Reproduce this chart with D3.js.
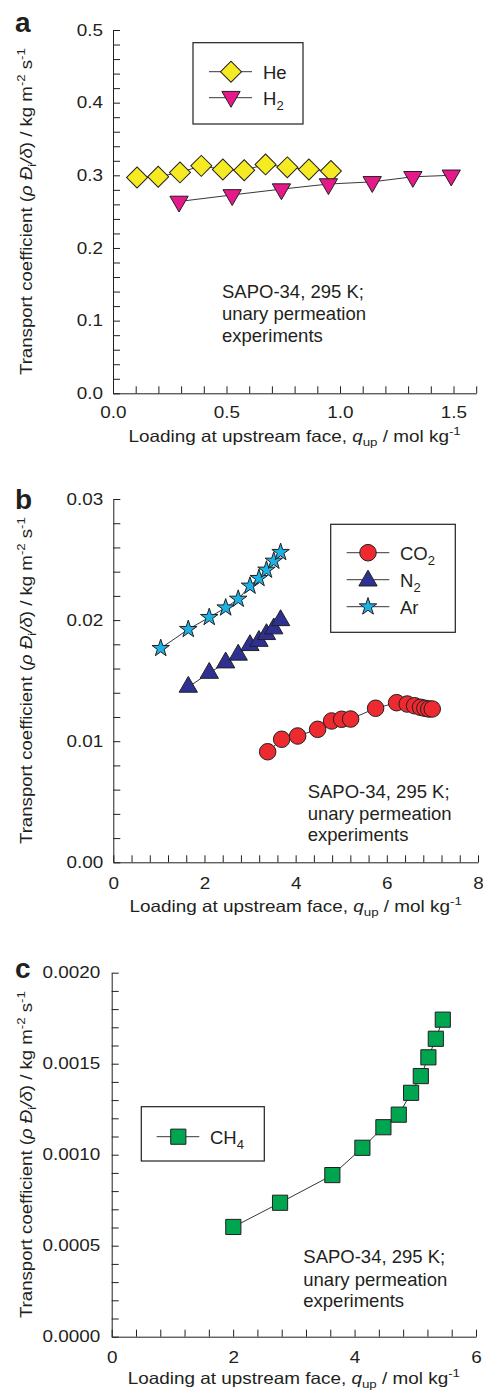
<!DOCTYPE html>
<html><head><meta charset="utf-8">
<script src="https://cdn.jsdelivr.net/npm/d3@7"></script>
<style>
body{margin:0;background:#fff}
svg{display:block}
text{font-family:"Liberation Sans",Arial,sans-serif;fill:#231f20}
</style>
</head><body>
<svg id="chart" width="483" height="1391"></svg>
<script>
// ---------- Panel a data ----------
const heX = [0.106, 0.199, 0.295, 0.389, 0.484, 0.578, 0.672, 0.768, 0.863, 0.960];
const heY = [0.297, 0.298, 0.304, 0.313, 0.308, 0.307, 0.315, 0.311, 0.308, 0.306];
const h2X = [0.291, 0.525, 0.742, 0.949, 1.142, 1.321, 1.490];
const h2Y = [0.264, 0.273, 0.281, 0.288, 0.291, 0.298, 0.300];
const aXTicks = [0.0, 0.5, 1.0, 1.5];
const aYTicks = [0.0, 0.1, 0.2, 0.3, 0.4, 0.5];

// ---------- Panel b data ----------
const co2X = [3.386, 3.693, 4.044, 4.482, 4.789, 5.009, 5.206, 5.754, 6.215, 6.447, 6.61, 6.74, 6.835, 6.92, 6.996];
const co2Y = [0.00913, 0.01016, 0.01043, 0.01098, 0.01167, 0.01181, 0.01183, 0.01272, 0.01318, 0.01307, 0.01293, 0.0128, 0.01272, 0.01266, 0.01266];
const n2X = [1.645, 2.105, 2.465, 2.74, 2.998, 3.195, 3.36, 3.52, 3.67];
const n2Y = [0.01448, 0.01563, 0.01649, 0.01713, 0.01792, 0.01827, 0.01883, 0.0193, 0.01998];
const arX = [1.04, 1.645, 2.105, 2.465, 2.74, 2.998, 3.195, 3.36, 3.52, 3.67];
const arY = [0.01767, 0.01924, 0.02023, 0.02102, 0.02174, 0.02282, 0.02345, 0.02414, 0.02488, 0.0256];
const bXTicks = [0, 2, 4, 6, 8];
const bYTicks = [0.00, 0.01, 0.02, 0.03];

// ---------- Panel c data ----------
const ch4X = [2.003, 2.773, 3.634, 4.129, 4.475, 4.728, 4.931, 5.091, 5.216, 5.338, 5.453];
const ch4Y = [0.000603, 0.000736, 0.000888, 0.001038, 0.001151, 0.00122, 0.00134, 0.001432, 0.001535, 0.001637, 0.001742];
const cXTicks = [0, 2, 4, 6];
const cYTicks = [0.0000, 0.0005, 0.0010, 0.0015, 0.0020];

const annotationLines = ["SAPO-34, 295 K;", "unary permeation", "experiments"];

const INK = "#231f20";
const AX_FS = 16.3;     // axis text font size
const SX = 1.16;        // horizontal stretch of axis text
const svg = d3.select("#chart");

const zip = (xs, ys) => xs.map((x, i) => ({x, y: ys[i]}));

const marker = {
  diamond: {type: d3.symbolSquare, size: 220, rot: 45},
  down: {type: d3.symbolTriangle, size: 145, rot: 180},
  up: {type: d3.symbolTriangle, size: 145, rot: 0},
  circle: {type: d3.symbolCircle, size: 215, rot: 0},
  star: {type: d3.symbolStar, size: 95, rot: 0},
  square: {type: d3.symbolSquare, size: 230, rot: 0}
};

const panels = [
  {
    letter: "a", letterY: 32,
    xDomain: [0, 1.6], xRange: [113, 476.2], yDomain: [0, 0.5], yRange: [393.3, 30],
    xTicks: aXTicks, xMinorStep: 0.1, xFmt: d3.format(".1f"),
    yTicks: aYTicks, yMinorStep: 0.02, yFmt: d3.format(".1f"),
    yPad: 10, xPad: 13.5, xTitleDy: 48.5,
    series: [
      {name: "He", data: zip(heX, heY), fill: "#f6eb22", m: "diamond"},
      {name: "H", sub: "2", data: zip(h2X, h2Y), fill: "#e6198a", m: "down"}
    ],
    legend: {box: [193, 42.7, 110, 81.3], y0: 71.7, gap: 26, lx: [209, 252], mx: 231, tx: 263},
    note: {x: 222, y: [298.3, 320.3, 342]}
  },
  {
    letter: "b", letterY: 509,
    xDomain: [0, 8], xRange: [113.3, 478], yDomain: [0, 0.03], yRange: [862.3, 499],
    xTicks: bXTicks, xMinorStep: 0.4, xFmt: d3.format("d"),
    yTicks: bYTicks, yMinorStep: 0.002, yFmt: d3.format(".2f"),
    yPad: 10, xPad: 15, xTitleDy: 49.4,
    series: [
      {name: "CO", sub: "2", data: zip(co2X, co2Y), fill: "#ec2a2f", m: "circle"},
      {name: "N", sub: "2", data: zip(n2X, n2Y), fill: "#2e3192", m: "up"},
      {name: "Ar", data: zip(arX, arY), fill: "#1cb2e6", m: "star"}
    ],
    legend: {box: [330.7, 524.3, 124.6, 108], y0: 552.7, gap: 27, lx: [346.7, 389.3], mx: 368, tx: 400},
    note: {x: 307.7, y: [798.3, 820, 840.7]}
  },
  {
    letter: "c", letterY: 978,
    xDomain: [0, 6], xRange: [111.7, 476], yDomain: [0, 0.002], yRange: [1336.7, 972.7],
    xTicks: cXTicks, xMinorStep: 0.4, xFmt: d3.format("d"),
    yTicks: cYTicks, yMinorStep: 0.0001, yFmt: d3.format(".4f"),
    yPad: 11.5, xPad: 15, xTitleDy: 47,
    series: [
      {name: "CH", sub: "4", data: zip(ch4X, ch4Y), fill: "#00a550", m: "square"}
    ],
    legend: {box: [141.3, 1106.7, 123, 54.3], y0: 1136.7, gap: 27, lx: [156.7, 199.3], mx: 178.3, tx: 210},
    note: {x: 303.3, y: [1263.3, 1286.3, 1306.7]}
  }
];

function drawMarker(g, mk, fill, cx, cy) {
  const m = marker[mk];
  g.append("path")
    .attr("d", d3.symbol(m.type, m.size)())
    .attr("transform", `translate(${cx},${cy}) rotate(${m.rot})`)
    .attr("fill", fill)
    .attr("stroke", INK)
    .attr("stroke-width", 1);
}

function seriesLabel(textSel, s) {
  textSel.append("tspan").text(s.name);
  if (s.sub) textSel.append("tspan").attr("dy", 5).attr("font-size", 13).text(s.sub);
}

panels.forEach(p => {
  const g = svg.append("g");
  const x = d3.scaleLinear().domain(p.xDomain).range(p.xRange);
  const y = d3.scaleLinear().domain(p.yDomain).range(p.yRange);

  const xMinor = d3.range(p.xDomain[0], p.xDomain[1] + p.xMinorStep / 2, p.xMinorStep);
  const yMinor = d3.range(p.yDomain[0], p.yDomain[1] + p.yMinorStep / 2, p.yMinorStep);
  const isMajor = (v, arr, step) => arr.some(t => Math.abs(t - v) < step / 10);

  // x axis
  const xa = g.append("g").attr("transform", `translate(0,${p.yRange[0]})`)
    .call(d3.axisBottom(x).tickValues(xMinor).tickSizeInner(-7).tickSizeOuter(0).tickPadding(p.xPad)
      .tickFormat(v => isMajor(v, p.xTicks, p.xMinorStep) ? p.xFmt(v) : ""));
  // y axis
  const ya = g.append("g").attr("transform", `translate(${p.xRange[0]},0)`)
    .call(d3.axisLeft(y).tickValues(yMinor).tickSizeInner(-7).tickSizeOuter(0).tickPadding(p.yPad)
      .tickFormat(v => isMajor(v, p.yTicks, p.yMinorStep) ? p.yFmt(v) : ""));
  [xa, ya].forEach(a => {
    a.selectAll("path,line").attr("stroke", INK).attr("stroke-width", 1);
    a.selectAll("text").attr("font-size", AX_FS).attr("fill", INK)
      .attr("font-family", '"Liberation Sans",Arial,sans-serif');
  });
  xa.selectAll("text").attr("transform", `scale(${SX},1)`);
  ya.selectAll("text").attr("x", -p.yPad / SX).attr("transform", `scale(${SX},1)`);

  // axis titles
  const xt = g.append("text")
    .attr("transform", `translate(${(p.xRange[0] + p.xRange[1]) / 2},${p.yRange[0] + p.xTitleDy}) scale(${SX},1)`)
    .attr("text-anchor", "middle").attr("font-size", AX_FS);
  xt.append("tspan").text("Loading at upstream face, ");
  xt.append("tspan").attr("font-style", "italic").text("q");
  xt.append("tspan").attr("font-size", 11.5).attr("dy", 4.5).text("up");
  xt.append("tspan").attr("dy", -4.5).text(" / mol kg");
  xt.append("tspan").attr("font-size", 11.5).attr("dy", -7).text("-1");

  const yc = (p.yRange[0] + p.yRange[1]) / 2;
  const yt = g.append("text").attr("transform", `translate(32,${yc}) rotate(-90) scale(${SX * 0.985},1)`)
    .attr("text-anchor", "middle").attr("font-size", AX_FS);
  yt.append("tspan").text("Transport coefficient (");
  yt.append("tspan").attr("font-style", "italic").text("ρ Đ");
  yt.append("tspan").attr("font-size", 11.5).attr("dy", 4).text("i");
  yt.append("tspan").attr("font-style", "italic").attr("dy", -4).text("/δ");
  yt.append("tspan").text(") / kg m");
  yt.append("tspan").attr("font-size", 11.5).attr("dy", -7).text("-2");
  yt.append("tspan").attr("dy", 7).text(" s");
  yt.append("tspan").attr("font-size", 11.5).attr("dy", -7).text("-1");

  // panel letter
  g.append("text").attr("x", 15).attr("y", p.letterY).attr("font-size", 28).attr("font-weight", "bold").text(p.letter);

  // series
  const line = d3.line().x(d => x(d.x)).y(d => y(d.y));
  p.series.forEach(s => {
    g.append("path").attr("d", line(s.data)).attr("fill", "none").attr("stroke", INK).attr("stroke-width", 0.9);
    s.data.forEach(d => drawMarker(g, s.m, s.fill, x(d.x), y(d.y)));
  });

  // legend
  const L = p.legend;
  g.append("rect").attr("x", L.box[0]).attr("y", L.box[1]).attr("width", L.box[2]).attr("height", L.box[3])
    .attr("fill", "#fff").attr("stroke", INK).attr("stroke-width", 1.2);
  p.series.forEach((s, i) => {
    const ly = L.y0 + i * L.gap;
    g.append("line").attr("x1", L.lx[0]).attr("x2", L.lx[1]).attr("y1", ly).attr("y2", ly)
      .attr("stroke", INK).attr("stroke-width", 0.9);
    drawMarker(g, s.m, s.fill, L.mx, ly + (s.m === "down" ? -1 : s.m === "up" ? 1 : 0));
    const t = g.append("text").attr("x", L.tx).attr("y", ly + 6.8).attr("font-size", 18.5);
    seriesLabel(t, s);
  });

  // annotation
  annotationLines.forEach((ln, i) => {
    g.append("text").attr("x", p.note.x).attr("y", p.note.y[i]).attr("font-size", 18.5).text(ln);
  });
});
</script>
</body></html>
